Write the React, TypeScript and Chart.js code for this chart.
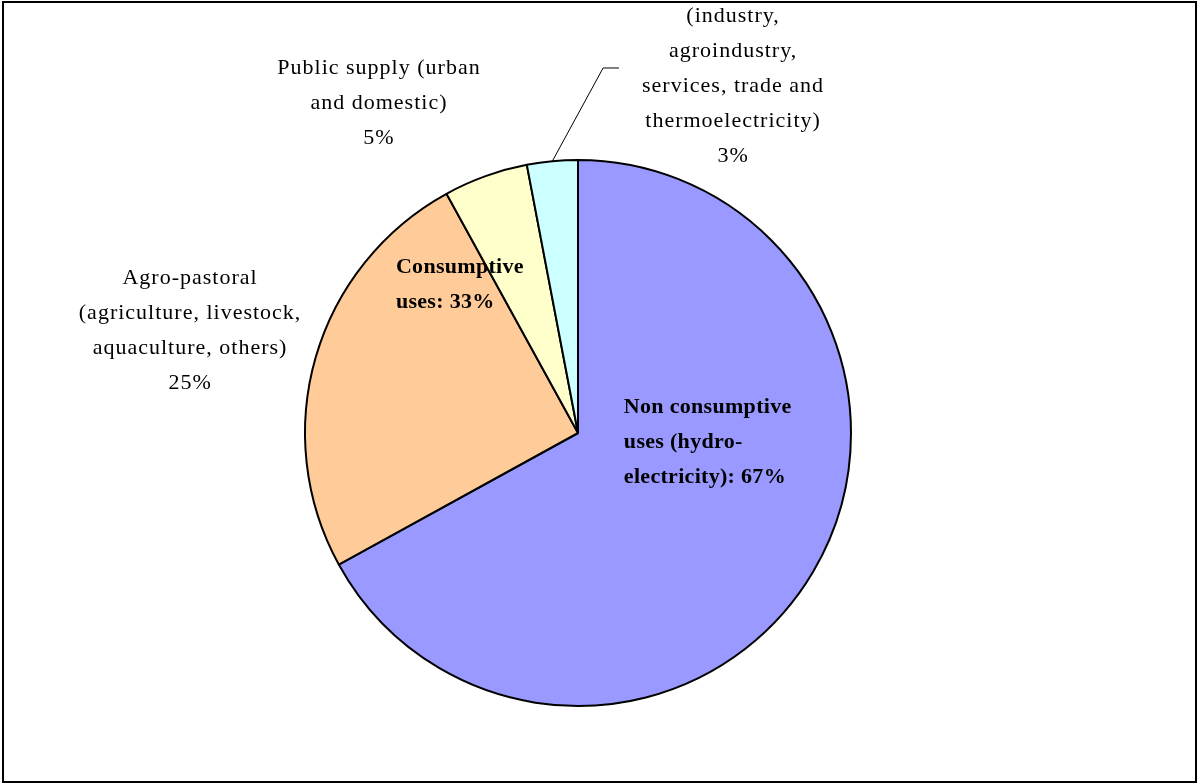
import React, { useEffect, useRef } from "react";
import { Chart, registerables } from "chart.js";

Chart.register(...registerables);

const categories = [
  "Non consumptive uses (hydro-electricity)",
  "Agro-pastoral (agriculture, livestock, aquaculture, others)",
  "Public supply (urban and domestic)",
  "Industrial (industry, agroindustry, services, trade and thermoelectricity)",
];
const values = [67, 25, 5, 3];
const colors = ["#9999FF", "#FFCC99", "#FFFFCC", "#CCFFFF"];

const outsideLabels: string[][] = [
  [],
  ["Agro-pastoral", "(agriculture, livestock,", "aquaculture, others)", "25%"],
  ["Public supply (urban", "and domestic)", "5%"],
  ["Industrial", "(industry,", "agroindustry,", "services, trade and", "thermoelectricity)", "3%"],
];
const boldLabels: string[][] = [
  ["Non consumptive", "uses (hydro-", "electricity): 67%"],
  ["Consumptive", "uses: 33%"],
];

const W = 1197;
const H = 783;
const FONT = "'Liberation Serif', 'DejaVu Serif', serif";
const LINE = 35;

// label anchors in units of the pie radius, relative to its centre
const outsideAnchor = [null, [-1.421, -0.568], [-0.729, -1.336], [0.568, -1.655]];
const boldAnchor = [[0.168, -0.095], [-0.667, -0.606]];
const leaderElbow = [0.092, -1.337];
const leaderTail = 0.058;

const labelPlugin = {
  id: "labels",
  beforeDraw(chart: any) {
    const ctx = chart.ctx;
    ctx.save();
    ctx.fillStyle = "#ffffff";
    ctx.fillRect(0, 0, chart.width, chart.height);
    ctx.restore();
  },
  afterDraw(chart: any) {
    const ctx = chart.ctx;
    const meta = chart.getDatasetMeta(0);
    const a0 = meta.data[0];
    const cx = a0.x;
    const cy = a0.y;
    const R = a0.outerRadius;
    ctx.save();
    ctx.fillStyle = "#000";
    ctx.textBaseline = "middle";
    ctx.font = `22px ${FONT}`;
    (ctx as any).letterSpacing = "1px";
    ctx.textAlign = "center";
    outsideLabels.forEach((lines, i) => {
      const anc = outsideAnchor[i];
      if (!anc) return;
      lines.forEach((t, k) => {
        ctx.fillText(t, cx + anc[0] * R, cy + anc[1] * R + k * LINE);
      });
    });
    ctx.font = `bold 22px ${FONT}`;
    (ctx as any).letterSpacing = "0.3px";
    ctx.textAlign = "left";
    boldLabels.forEach((lines, i) => {
      const anc = boldAnchor[i];
      lines.forEach((t, k) => {
        ctx.fillText(t, cx + anc[0] * R, cy + anc[1] * R + k * LINE);
      });
    });
    (ctx as any).letterSpacing = "0px";
    // leader line for smallest slice
    const arc = meta.data[3];
    const mid = (arc.startAngle + arc.endAngle) / 2;
    const px = cx + Math.cos(mid) * R;
    const py = cy + Math.sin(mid) * R;
    ctx.strokeStyle = "#000";
    ctx.lineWidth = 1;
    ctx.beginPath();
    ctx.moveTo(px, py);
    ctx.lineTo(cx + leaderElbow[0] * R, cy + leaderElbow[1] * R);
    ctx.lineTo(cx + (leaderElbow[0] + leaderTail) * R, cy + leaderElbow[1] * R);
    ctx.stroke();
    // frame
    ctx.lineWidth = 2;
    ctx.strokeRect(3, 2, chart.width - 4, chart.height - 3);
    ctx.restore();
  },
};

export default function App() {
  const ref = useRef<HTMLCanvasElement | null>(null);
  useEffect(() => {
    document.body.style.margin = "0";
    if (!ref.current) return;
    const chart = new Chart(ref.current, {
      type: "pie",
      data: {
        labels: categories,
        datasets: [
          {
            data: values,
            backgroundColor: colors,
            borderColor: "#000",
            borderWidth: 2,
          },
        ],
      },
      options: {
        responsive: false,
        animation: false,
        layout: { padding: { top: 159, bottom: 76, left: 304, right: 345 } },
        plugins: { legend: { display: false }, tooltip: { enabled: false } },
      },
      plugins: [labelPlugin],
    });
    return () => chart.destroy();
  }, []);
  return (
    <div style={{ width: W, height: H }}>
      <canvas ref={ref} width={W} height={H} style={{ display: "block" }} />
    </div>
  );
}
